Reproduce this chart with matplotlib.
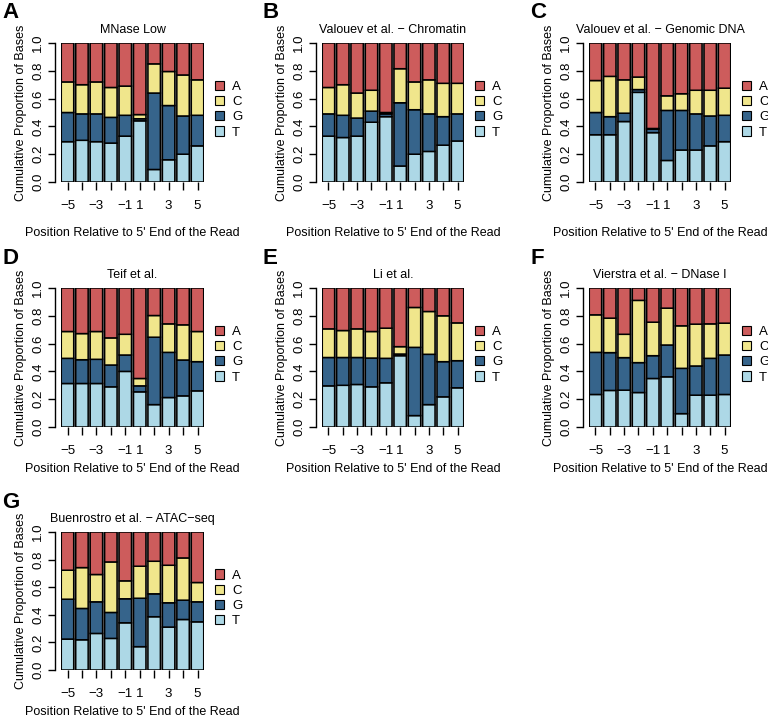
import matplotlib
matplotlib.use("Agg")
import matplotlib.pyplot as plt
from matplotlib.patches import Patch

plt.rcParams["font.family"] = ["Liberation Sans", "DejaVu Sans"]

# ---- DATA ----
positions = ["-5", "-4", "-3", "-2", "-1", "1", "2", "3", "4", "5"]
tick_labels = ["\u22125", "", "\u22123", "", "\u22121", "1", "", "3", "", "5"]
bases = ["A", "C", "G", "T"]

# cumulative tops (bottom -> top : T, G, C, A=1)
mnase_T = [0.29, 0.30, 0.29, 0.28, 0.33, 0.44, 0.09, 0.16, 0.20, 0.26]
mnase_G = [0.50, 0.49, 0.49, 0.465, 0.48, 0.455, 0.64, 0.55, 0.475, 0.48]
mnase_C = [0.72, 0.70, 0.72, 0.68, 0.69, 0.485, 0.85, 0.795, 0.77, 0.735]

vchrom_T = [0.33, 0.32, 0.33, 0.43, 0.47, 0.115, 0.20, 0.22, 0.265, 0.295]
vchrom_G = [0.49, 0.48, 0.46, 0.51, 0.49, 0.57, 0.52, 0.49, 0.47, 0.49]
vchrom_C = [0.68, 0.70, 0.64, 0.66, 0.50, 0.815, 0.72, 0.735, 0.71, 0.71]

vgdna_T = [0.34, 0.34, 0.435, 0.645, 0.355, 0.155, 0.23, 0.23, 0.26, 0.29]
vgdna_G = [0.50, 0.47, 0.495, 0.665, 0.38, 0.515, 0.515, 0.49, 0.475, 0.48]
vgdna_C = [0.73, 0.76, 0.735, 0.755, 0.385, 0.62, 0.635, 0.66, 0.66, 0.675]

teif_T = [0.313, 0.313, 0.313, 0.289, 0.40, 0.253, 0.161, 0.212, 0.224, 0.26]
teif_G = [0.494, 0.484, 0.487, 0.446, 0.518, 0.296, 0.646, 0.537, 0.482, 0.47]
teif_C = [0.687, 0.672, 0.687, 0.641, 0.667, 0.349, 0.802, 0.742, 0.735, 0.687]

li_T = [0.296, 0.30, 0.306, 0.289, 0.318, 0.513, 0.082, 0.161, 0.217, 0.282]
li_G = [0.50, 0.50, 0.50, 0.496, 0.494, 0.525, 0.573, 0.523, 0.47, 0.477]
li_C = [0.706, 0.694, 0.706, 0.687, 0.711, 0.578, 0.86, 0.831, 0.80, 0.749]

vier_T = [0.234, 0.263, 0.265, 0.248, 0.349, 0.361, 0.096, 0.229, 0.229, 0.234]
vier_G = [0.537, 0.535, 0.499, 0.463, 0.513, 0.59, 0.422, 0.439, 0.494, 0.518]
vier_C = [0.807, 0.783, 0.667, 0.911, 0.754, 0.855, 0.728, 0.74, 0.742, 0.747]

buen_T = [0.224, 0.219, 0.265, 0.229, 0.342, 0.169, 0.386, 0.311, 0.366, 0.349]
buen_G = [0.513, 0.446, 0.494, 0.417, 0.516, 0.52, 0.552, 0.487, 0.506, 0.494]
buen_C = [0.723, 0.742, 0.692, 0.783, 0.646, 0.752, 0.788, 0.759, 0.812, 0.634]

panels = [
    ("A", "MNase Low", mnase_T, mnase_G, mnase_C),
    ("B", "Valouev et al. \u2212 Chromatin", vchrom_T, vchrom_G, vchrom_C),
    ("C", "Valouev et al. \u2212 Genomic DNA", vgdna_T, vgdna_G, vgdna_C),
    ("D", "Teif et al.", teif_T, teif_G, teif_C),
    ("E", "Li et al.", li_T, li_G, li_C),
    ("F", "Vierstra et al. \u2212 DNase I", vier_T, vier_G, vier_C),
    ("G", "Buenrostro et al. \u2212 ATAC\u2212seq", buen_T, buen_G, buen_C),
]

colors = {"A": "#CD5C5C", "C": "#F0E68C", "G": "#36648B", "T": "#ADD8E6"}

W, H = 768, 720
fig = plt.figure(figsize=(W / 100, H / 100), dpi=100)

# pixel boxes of bar areas: (left, right, top(1.0), bottom(0.0))
col_x = [(61, 204), (322, 464), (589, 731)]
row_y = [(43, 182), (288, 427), (532, 670)]
row_xpad = [11, 4, 4]


def add_panel(idx, letter, title, t, g, c):
    r, col = divmod(idx, 3)
    x0, x1 = col_x[col]
    ytop, ybot = row_y[r]
    ax = fig.add_axes([x0 / W, 1 - ybot / H, (x1 - x0) / W, (ybot - ytop) / H])
    xs = list(range(len(positions)))
    bw = 0.86
    # gray shows between the bars
    ax.axvspan(-bw / 2, len(xs) - 1 + bw / 2, ymin=0, ymax=1, color="#8c8c8c", zorder=0, lw=0)
    a_h = [1 - v for v in c]
    c_h = [cv - gv for cv, gv in zip(c, g)]
    g_h = [gv - tv for gv, tv in zip(g, t)]
    kw = dict(width=bw, edgecolor="black", linewidth=1.1, zorder=2, snap=False)
    ax.bar(xs, t, color=colors["T"], **kw)
    ax.bar(xs, g_h, bottom=t, color=colors["G"], **kw)
    ax.bar(xs, c_h, bottom=g, color=colors["C"], **kw)
    ax.bar(xs, a_h, bottom=c, color=colors["A"], **kw)
    ax.set_xlim(-bw / 2 - 0.02, len(xs) - 1 + bw / 2 + 0.02)
    ax.set_ylim(0, 1)

    for s in ["top", "right", "bottom"]:
        ax.spines[s].set_visible(False)
    ax.spines["left"].set_position(("outward", 4))
    ax.spines["left"].set_bounds(0, 1)
    ax.spines["left"].set_linewidth(1.0)

    ax.set_yticks([0, 0.2, 0.4, 0.6, 0.8, 1.0])
    ax.set_yticklabels(["0.0", "0.2", "0.4", "0.6", "0.8", "1.0"], rotation=90, va="center")
    ax.set_xticks(xs)
    ax.set_xticklabels(tick_labels)
    ax.tick_params(axis="y", length=5, width=1.0, labelsize=9.5, pad=3)
    ax.tick_params(axis="x", length=6, width=1.0, labelsize=9.5, pad=7)

    ax.set_ylabel("Cumulative Proportion of Bases", fontsize=9, labelpad=4)
    ax.set_xlabel("Position Relative to 5' End of the Read", fontsize=9, labelpad=row_xpad[r])
    ax.set_title(title, fontsize=9, pad=7)

    ax.text((x0 - 59) / W, 1 - (ytop - 30) / H, letter, transform=fig.transFigure,
            fontsize=16, fontweight="bold", ha="left", va="center")

    handles = [Patch(facecolor=colors[b], edgecolor="black", linewidth=0.8) for b in bases]
    ax.legend(handles, bases, loc="center left", bbox_to_anchor=(1.04, 0.52), frameon=False,
              fontsize=9.5, handlelength=0.7, handleheight=0.7, handletextpad=0.6,
              labelspacing=0.22, borderaxespad=0)


for i, (letter, title, t, g, c) in enumerate(panels):
    add_panel(i, letter, title, t, g, c)

fig.savefig("out.png", dpi=100)
